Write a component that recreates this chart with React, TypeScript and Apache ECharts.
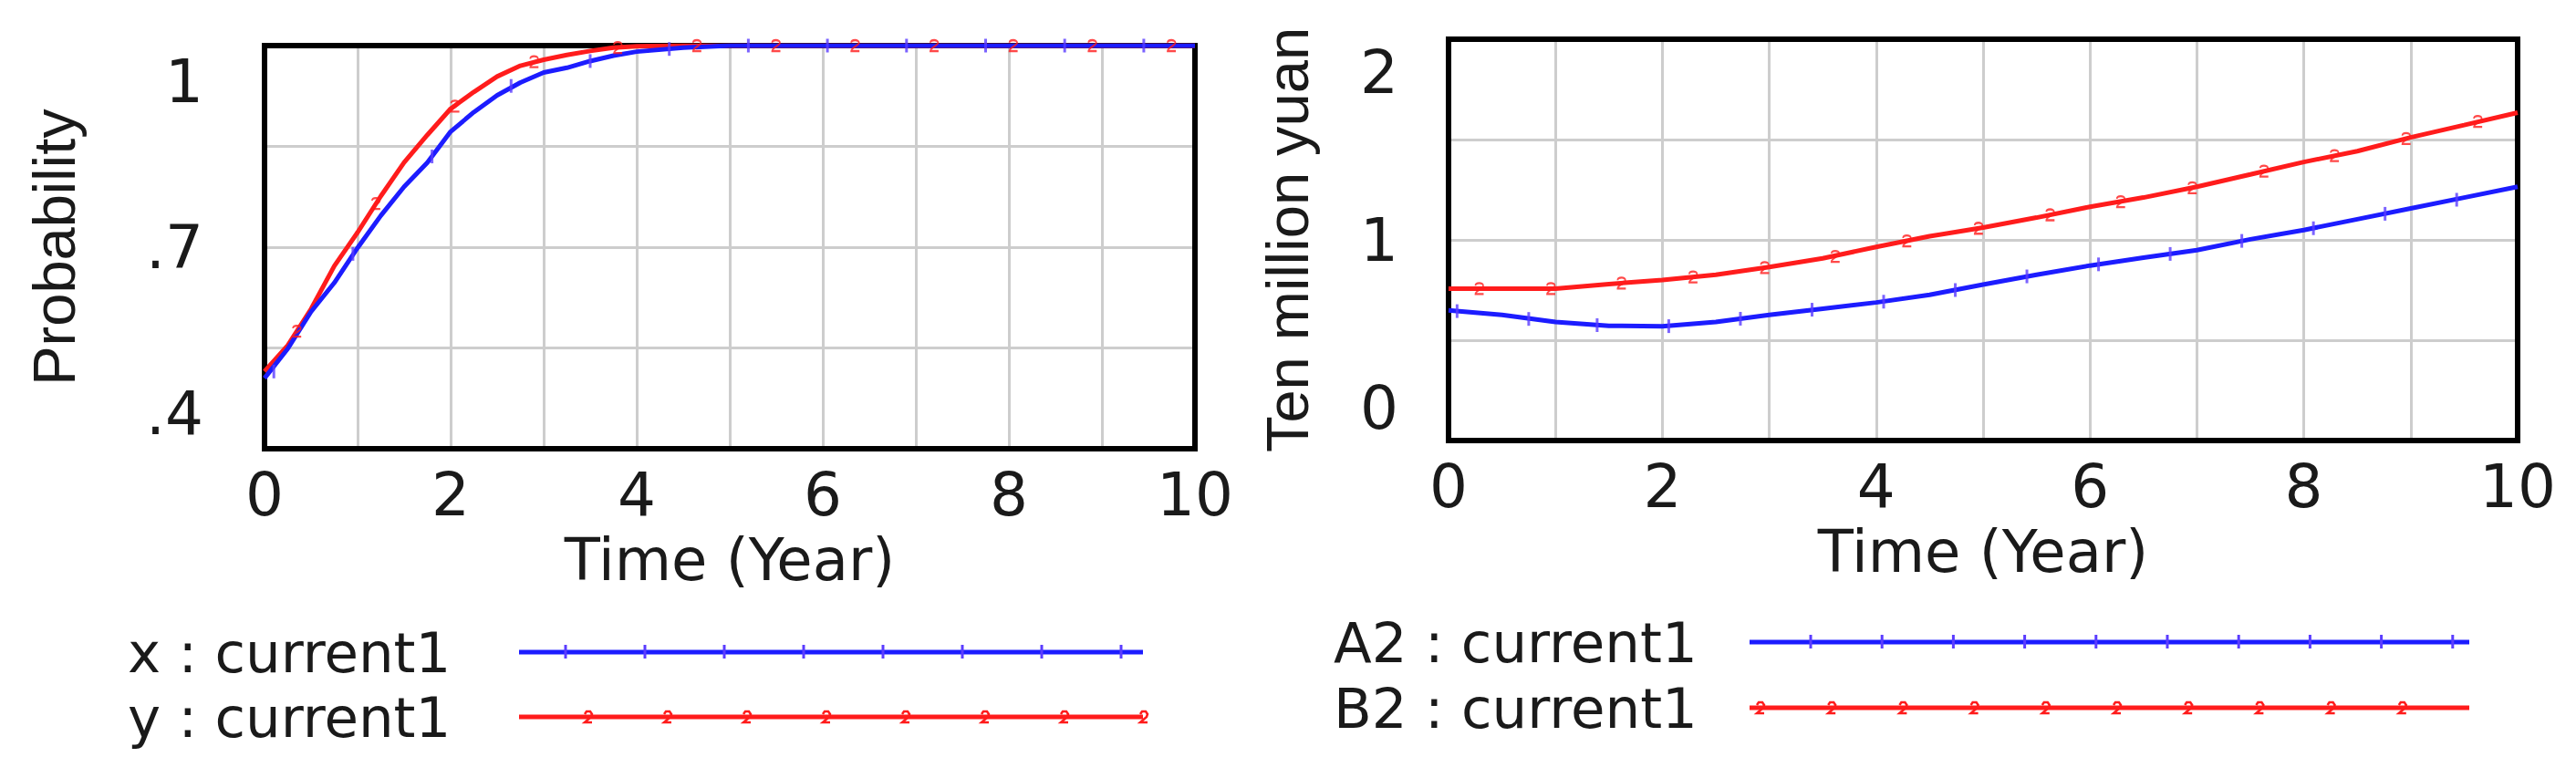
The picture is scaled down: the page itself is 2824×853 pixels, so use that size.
import React, { useEffect, useRef } from "react";
import * as echarts from "echarts";

// ---------- data ----------
const PROB_TIME = [0, 0.25, 0.5, 0.75, 1, 1.25, 1.5, 1.75, 2, 2.25, 2.5, 2.75, 3, 3.25, 3.5, 3.75, 4, 4.5, 5, 6, 7, 8, 9, 10];
const X_CURRENT1 = [0.505, 0.549, 0.604, 0.647, 0.699, 0.747, 0.79, 0.826, 0.872, 0.901, 0.926, 0.945, 0.96, 0.967, 0.977, 0.985, 0.991, 0.997, 1, 1, 1, 1, 1, 1];
const Y_CURRENT1 = [0.515, 0.554, 0.608, 0.672, 0.722, 0.776, 0.826, 0.867, 0.906, 0.931, 0.954, 0.97, 0.979, 0.986, 0.992, 0.997, 0.999, 1, 1, 1, 1, 1, 1, 1];

const X_MARK_TIME = [0.1, 0.95, 1.8, 2.65, 3.5, 4.35, 5.2, 6.05, 6.9, 7.75, 8.6, 9.45];
const X_MARK_VALUE = [0.515, 0.69, 0.835, 0.94, 0.977, 0.995, 1, 1, 1, 1, 1, 1];
const Y_MARK_TIME = [0.35, 1.2, 2.05, 2.9, 3.8, 4.65, 5.5, 6.35, 7.2, 8.05, 8.9, 9.75];
const Y_MARK_VALUE = [0.575, 0.765, 0.91, 0.976, 0.997, 1, 1, 1, 1, 1, 1, 1];

const MONEY_TIME = [0, 0.5, 1, 1.5, 2, 2.5, 3, 3.5, 4, 4.5, 5, 5.5, 6, 6.5, 7, 7.5, 8, 8.5, 9, 9.5, 10];
const A2_CURRENT1 = [0.649, 0.626, 0.591, 0.572, 0.569, 0.591, 0.626, 0.657, 0.688, 0.726, 0.777, 0.826, 0.872, 0.911, 0.949, 1.003, 1.049, 1.103, 1.157, 1.211, 1.265];
const B2_CURRENT1 = [0.757, 0.757, 0.757, 0.78, 0.8, 0.826, 0.865, 0.908, 0.965, 1.018, 1.061, 1.111, 1.165, 1.211, 1.265, 1.326, 1.388, 1.442, 1.511, 1.572, 1.634];

const A2_MARK_TIME = [0.08, 0.75, 1.39, 2.06, 2.73, 3.4, 4.07, 4.74, 5.41, 6.08, 6.75, 7.42, 8.09, 8.76, 9.43];
const A2_MARK_VALUE = [0.645, 0.606, 0.575, 0.57, 0.607, 0.652, 0.692, 0.75, 0.818, 0.878, 0.93, 0.995, 1.058, 1.13, 1.2];
const B2_MARK_TIME = [0.29, 0.96, 1.62, 2.29, 2.96, 3.62, 4.29, 4.96, 5.63, 6.29, 6.96, 7.63, 8.29, 8.96, 9.63];
const B2_MARK_VALUE = [0.757, 0.757, 0.785, 0.815, 0.862, 0.918, 0.995, 1.058, 1.125, 1.19, 1.26, 1.343, 1.42, 1.505, 1.59];

const TIME_LABELS = [0, 2, 4, 6, 8, 10];
// probability axis: positions of ticks/grid lines and the texts shown at them ("" = grid line only)
const PROB_TICK_VALUES = [0.4, 0.55, 0.7, 0.85, 1];
const PROB_TICK_TEXT = [".4", "", ".7", "", "1"];
const MONEY_TICK_VALUES = [0, 0.5, 1, 1.5, 2];
const MONEY_TICK_TEXT = ["0", "", "1", "", "2"];

const LEGEND_LEFT = ["x : current1", "y : current1"];
const LEGEND_RIGHT = ["A2 : current1", "B2 : current1"];

// ---------- style ----------
const BLUE = "#1c1cff";
const RED = "#ff1c1c";
const TICKBLUE = "#5a3cff";
const TEXT = "#1a1a1a";
const GRIDC = "#cdcdcd";
const FONT_H = "DejaVu Sans";
const FONT_V = "Liberation Sans";
const TWO_PATH = "path://M1,3.5C1,0 9,0 9,3.5C9,6.5 1,8.5 1,12L9.5,12";

const zip = (a: number[], b: number[]) => a.map((t, i) => [t, b[i]]);

function findLabel(values: number[], texts: string[], v: number) {
  const i = values.findIndex((x) => Math.abs(x - v) < 1e-6);
  if (i < 0) return "";
  const t = texts[i];
  if (!t) return "";
  if (i === values.length - 1) return "\n" + t;
  if (i === 0) return t + "\n";
  return t;
}

function legendGroup(
  labels: string[],
  textX: number,
  rowY: number[],
  lineX1: number,
  lineX2: number,
  blueTick0: number,
  redTick0: number,
  step: number,
  nBlue: number,
  nRed: number
) {
  const children: any[] = [];
  labels.forEach((lab, i) => {
    children.push({
      type: "text",
      x: textX,
      y: rowY[i],
      style: { text: lab, fontFamily: FONT_H, fontSize: 61, fill: TEXT, align: "left", verticalAlign: "middle" },
    });
  });
  children.push({ type: "line", shape: { x1: lineX1, y1: rowY[0], x2: lineX2, y2: rowY[0] }, style: { stroke: BLUE, lineWidth: 5 } });
  children.push({ type: "line", shape: { x1: lineX1, y1: rowY[1], x2: lineX2, y2: rowY[1] }, style: { stroke: RED, lineWidth: 5 } });
  for (let k = 0; k < nBlue; k++) {
    const x = blueTick0 + k * step;
    children.push({ type: "rect", shape: { x: x - 1.5, y: rowY[0] - 8, width: 3, height: 15 }, style: { fill: TICKBLUE } });
  }
  for (let k = 0; k < nRed; k++) {
    const x = redTick0 + k * step;
    const y = rowY[1];
    children.push({
      type: "polyline",
      shape: { points: [[x - 4, y - 3], [x - 2, y - 6], [x + 2, y - 6], [x + 4, y - 3], [x + 3, y], [x - 4, y + 6], [x + 4, y + 6]] },
      style: { stroke: RED, lineWidth: 2.5, fill: "none" },
    });
  }
  return { type: "group", children };
}

export default function App() {
  const ref = useRef<HTMLDivElement>(null);
  useEffect(() => {
    if (!ref.current) return;
    const chart = echarts.init(ref.current, undefined, { renderer: "svg" });

    const splitLineStyle = { show: true, showMinLine: false, showMaxLine: false, lineStyle: { color: GRIDC, width: 3 } };

    const xAxisBase = (gridIndex: number) => ({
      type: "value",
      gridIndex,
      min: 0,
      max: 10,
      interval: 1,
      axisLine: { show: false },
      axisTick: { show: false },
      splitLine: splitLineStyle,
      axisLabel: {
        margin: 17,
        fontFamily: FONT_H,
        fontSize: 66,
        color: TEXT,
        formatter: (v: number) => (TIME_LABELS.some((t) => Math.abs(t - v) < 1e-6) ? String(v) : ""),
      },
      name: "Time (Year)",
      nameLocation: "middle",
      nameGap: 90,
      nameMoveOverlap: false,
      nameTextStyle: { fontFamily: FONT_H, fontSize: 64, color: TEXT },
    });

    const gridBase = { show: true, borderColor: "#000", borderWidth: 6, backgroundColor: "transparent", containLabel: false, outerBoundsMode: "none", z: 1 };

    const option: any = {
      animation: false,
      backgroundColor: "#ffffff",
      grid: [
        { ...gridBase, left: 290, top: 50, width: 1020, height: 442 },
        { ...gridBase, left: 1588, top: 43, width: 1172, height: 440 },
      ],
      xAxis: [xAxisBase(0), xAxisBase(1)],
      yAxis: [
        {
          type: "value",
          gridIndex: 0,
          min: 0.4,
          max: 1,
          axisLine: { show: false },
          axisTick: { show: false, customValues: PROB_TICK_VALUES },
          splitLine: splitLineStyle,
          axisLabel: {
            customValues: PROB_TICK_VALUES,
            margin: 67,
            fontFamily: FONT_H,
            fontSize: 66,
            lineHeight: 78,
            color: TEXT,
            formatter: (v: number) => findLabel(PROB_TICK_VALUES, PROB_TICK_TEXT, v),
          },
          name: "Probability",
          nameLocation: "middle",
          nameGap: 198,
          nameMoveOverlap: false,
          nameTextStyle: { fontFamily: FONT_V, fontSize: 65, lineHeight: 65, color: TEXT },
        },
        {
          type: "value",
          gridIndex: 1,
          min: 0,
          max: 2,
          interval: 0.5,
          axisLine: { show: false },
          axisTick: { show: false },
          splitLine: splitLineStyle,
          axisLabel: {
            margin: 55,
            fontFamily: FONT_H,
            fontSize: 66,
            lineHeight: 72,
            color: TEXT,
            formatter: (v: number) => findLabel(MONEY_TICK_VALUES, MONEY_TICK_TEXT, v),
          },
          name: "Ten million yuan",
          nameLocation: "middle",
          nameGap: 144,
          nameMoveOverlap: false,
          nameTextStyle: { fontFamily: FONT_V, fontSize: 65, lineHeight: 65, color: TEXT },
        },
      ],
      series: [
        { name: "x : current1", type: "line", xAxisIndex: 0, yAxisIndex: 0, data: zip(PROB_TIME, X_CURRENT1), showSymbol: false, lineStyle: { color: BLUE, width: 5 }, itemStyle: { color: BLUE }, z: 3 },
        { name: "y : current1", type: "line", xAxisIndex: 0, yAxisIndex: 0, data: zip(PROB_TIME, Y_CURRENT1), showSymbol: false, lineStyle: { color: RED, width: 5 }, itemStyle: { color: RED }, z: 2 },
        { type: "scatter", xAxisIndex: 0, yAxisIndex: 0, data: zip(X_MARK_TIME, X_MARK_VALUE), symbol: "rect", symbolSize: [3, 15], itemStyle: { color: TICKBLUE }, z: 4, silent: true },
        { type: "scatter", xAxisIndex: 0, yAxisIndex: 0, data: zip(Y_MARK_TIME, Y_MARK_VALUE), symbol: TWO_PATH, symbolSize: [9, 12], itemStyle: { color: "none", borderColor: RED, borderWidth: 2 }, z: 4, silent: true },
        { name: "A2 : current1", type: "line", xAxisIndex: 1, yAxisIndex: 1, data: zip(MONEY_TIME, A2_CURRENT1), showSymbol: false, lineStyle: { color: BLUE, width: 5 }, itemStyle: { color: BLUE }, z: 3 },
        { name: "B2 : current1", type: "line", xAxisIndex: 1, yAxisIndex: 1, data: zip(MONEY_TIME, B2_CURRENT1), showSymbol: false, lineStyle: { color: RED, width: 5 }, itemStyle: { color: RED }, z: 3 },
        { type: "scatter", xAxisIndex: 1, yAxisIndex: 1, data: zip(A2_MARK_TIME, A2_MARK_VALUE), symbol: "rect", symbolSize: [3, 15], itemStyle: { color: TICKBLUE }, z: 4, silent: true },
        { type: "scatter", xAxisIndex: 1, yAxisIndex: 1, data: zip(B2_MARK_TIME, B2_MARK_VALUE), symbol: TWO_PATH, symbolSize: [9, 12], itemStyle: { color: "none", borderColor: RED, borderWidth: 2 }, z: 4, silent: true },
      ],
      graphic: [
        legendGroup(LEGEND_LEFT, 140, [715, 786], 569, 1253, 620, 645, 87, 8, 8),
        legendGroup(LEGEND_RIGHT, 1462, [704, 776], 1918, 2707, 1985, 1930, 78.2, 10, 10),
      ],
    };
    chart.setOption(option);
    return () => chart.dispose();
  }, []);

  return <div ref={ref} style={{ position: "fixed", left: 0, top: 0, width: 2824, height: 853, background: "#fff" }} />;
}
